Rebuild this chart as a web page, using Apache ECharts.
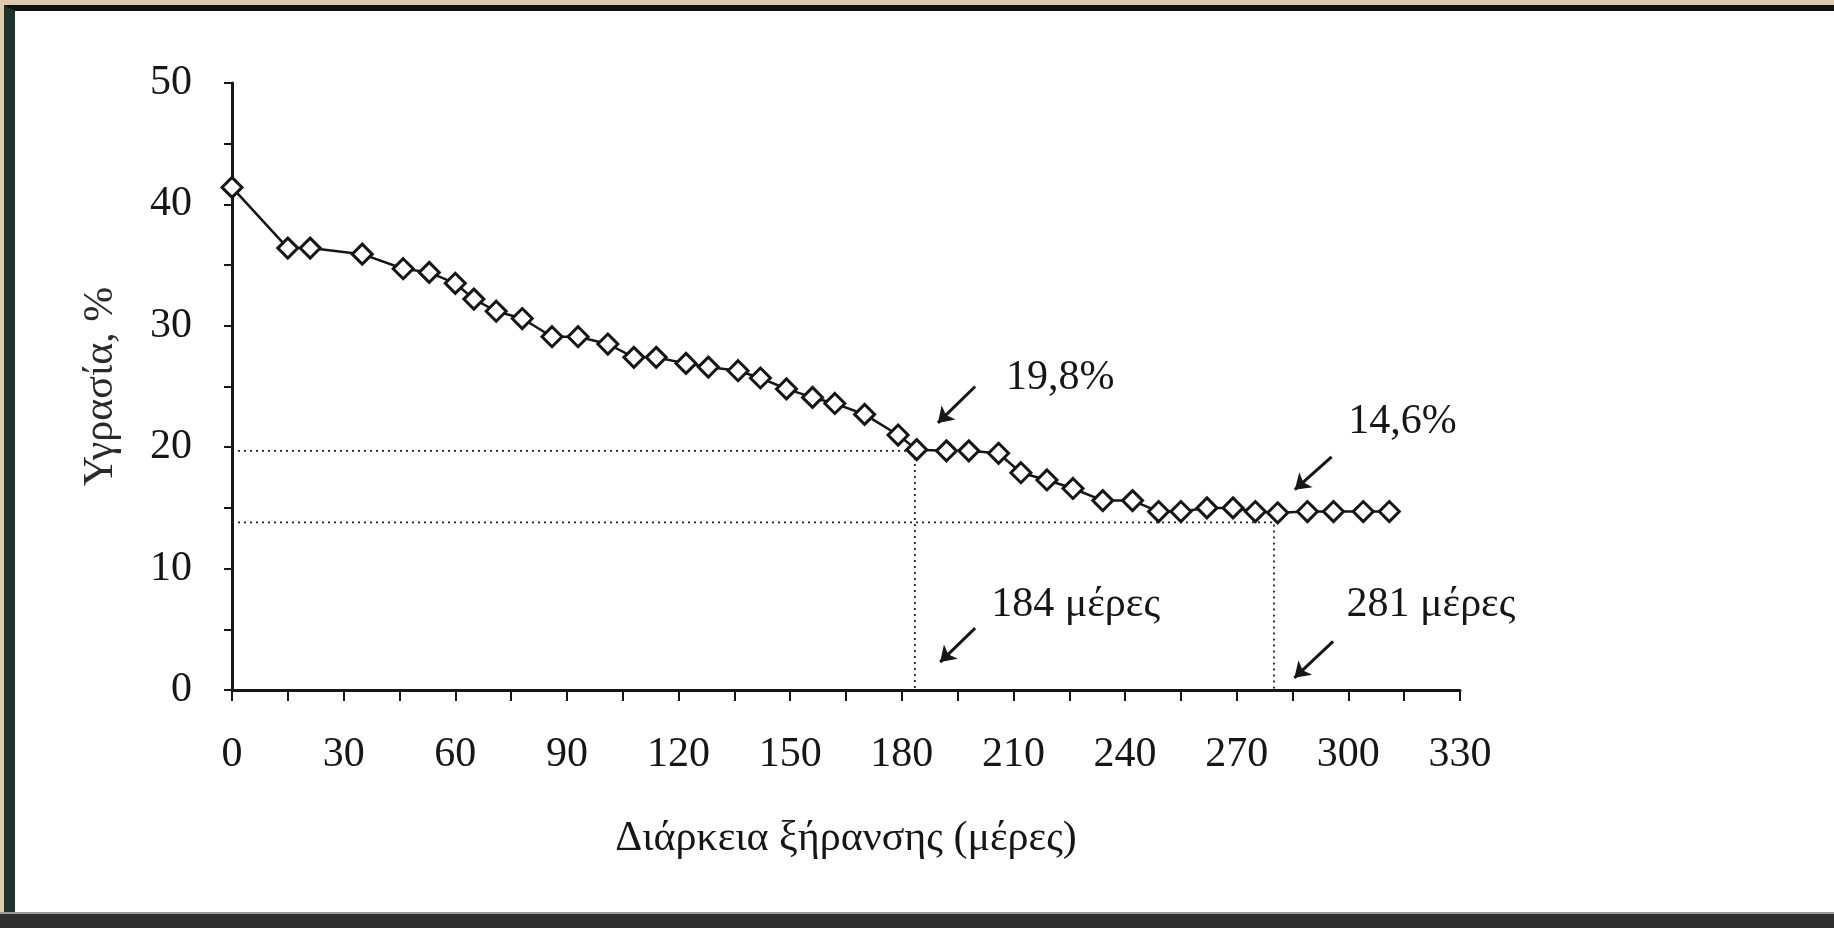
<!DOCTYPE html>
<html>
<head>
<meta charset="utf-8">
<script src="https://cdn.jsdelivr.net/npm/echarts@6/dist/echarts.min.js"></script>
<style>
  html, body { margin: 0; padding: 0; width: 1834px; height: 928px; overflow: hidden; background: #dccbab; }
  #panel { position: absolute; left: 4px; top: 5px; width: 1819px; height: 902px; background: #fff;
           border-top: 6px solid #111; border-left: 11px solid #1f332e; }
  #bar { position: absolute; left: 0; top: 912px; width: 1834px; height: 16px; background: #2e2e2e; border-top: 2px solid #9a9a9a; }
  #chart { position: absolute; left: 0; top: 0; width: 1834px; height: 928px; }
</style>
</head>
<body>
<div id="panel"></div>
<div id="bar"></div>
<div id="chart"></div>
<script>
// drying days and moisture (%)
const days = [0, 15, 21, 35, 46, 53, 60, 65, 71, 78, 86, 93, 101, 108, 114, 122, 128, 136, 142, 149,
  156, 162, 170, 179, 184, 192, 198, 206, 212, 219, 226, 234, 242, 249, 255, 262, 269, 275, 281,
  289, 296, 304, 311];
const moisture = [41.4, 36.4, 36.4, 35.9, 34.7, 34.4, 33.5, 32.2, 31.2, 30.6, 29.1, 29.1, 28.5, 27.4,
  27.4, 26.9, 26.6, 26.3, 25.7, 24.8, 24.1, 23.6, 22.7, 21.0, 19.8, 19.7, 19.7, 19.5, 17.9, 17.3,
  16.6, 15.6, 15.6, 14.7, 14.7, 15.0, 15.0, 14.7, 14.6, 14.7, 14.7, 14.7, 14.7];

// dotted guide lines: [day, level]
const guideDays = [183.5, 280];
const guideLevels = [19.7, 13.8];

// annotations
const noteTexts = ['19,8%', '184 μέρες', '14,6%', '281 μέρες'];
const notePos = [[208, 25.7], [204, 7.0], [300, 22.1], [299.5, 7.0]];
const arrowFrom = [[199.7, 25.0], [199.7, 5.1], [295.5, 19.2], [295.9, 4.0]];
const arrowTo = [[189.7, 22.0], [190.3, 2.3], [285.6, 16.5], [285.5, 1.0]];

const xTicks = { min: 0, max: 330, interval: 30 };
const yTicks = { min: 0, max: 50, interval: 10 };

const font = '"Liberation Serif", "Times New Roman", serif';
const ink = '#161616';

const chart = echarts.init(document.getElementById('chart'));

const guideSeries = guideDays.map((d, i) => ({
  type: 'line',
  data: [[0, guideLevels[i]], [d, guideLevels[i]], [d, 0]],
  symbol: 'none',
  silent: true,
  z: 1,
  lineStyle: { color: '#222', width: 1.8, type: [2, 4] }
}));

chart.setOption({
  backgroundColor: 'transparent',
  animation: false,
  grid: { left: 232, right: 374, top: 83, bottom: 238 },
  xAxis: {
    type: 'value',
    min: xTicks.min, max: xTicks.max, interval: xTicks.interval,
    name: 'Διάρκεια ξήρανσης (μέρες)',
    nameLocation: 'middle',
    nameGap: 128,
    nameTextStyle: { fontFamily: font, fontSize: 42, color: ink },
    axisLine: { lineStyle: { color: ink, width: 3 } },
    axisTick: { length: 11, lineStyle: { color: ink, width: 2 } },
    minorTick: { show: true, splitNumber: 2, length: 11, lineStyle: { color: ink, width: 2 } },
    splitLine: { show: false },
    axisLabel: { fontFamily: font, fontSize: 42, color: ink, margin: 44 }
  },
  yAxis: {
    type: 'value',
    min: yTicks.min, max: yTicks.max, interval: yTicks.interval,
    name: 'Υγρασία, %',
    nameLocation: 'middle',
    nameGap: 110,
    nameTextStyle: { fontFamily: font, fontSize: 42, color: '#2a2a2a' },
    axisLine: { show: true, lineStyle: { color: ink, width: 3 } },
    axisTick: { show: true, length: 8, lineStyle: { color: ink, width: 2 } },
    minorTick: { show: true, splitNumber: 2, length: 8, lineStyle: { color: ink, width: 2 } },
    splitLine: { show: false },
    axisLabel: { fontFamily: font, fontSize: 42, color: ink, margin: 40 }
  },
  series: guideSeries.concat([
    {
      type: 'line',
      data: days.map((d, i) => [d, moisture[i]]),
      symbol: 'diamond',
      symbolSize: 20,
      z: 3,
      lineStyle: { color: ink, width: 2.5 },
      itemStyle: { color: '#fff', borderColor: ink, borderWidth: 3 },
      markLine: {
        silent: true,
        symbol: ['none', 'arrow'],
        symbolSize: 15,
        label: { show: false },
        lineStyle: { color: ink, width: 3, type: 'solid' },
        data: arrowFrom.map((p, i) => [{ coord: p }, { coord: arrowTo[i] }])
      },
      markPoint: {
        silent: true,
        symbol: 'circle',
        symbolSize: 0,
        label: {
          show: true, position: 'right', distance: 0,
          fontFamily: font, fontSize: 42, color: ink,
          formatter: p => p.name
        },
        data: noteTexts.map((t, i) => ({ name: t, coord: notePos[i] }))
      }
    }
  ])
});
</script>
</body>
</html>
